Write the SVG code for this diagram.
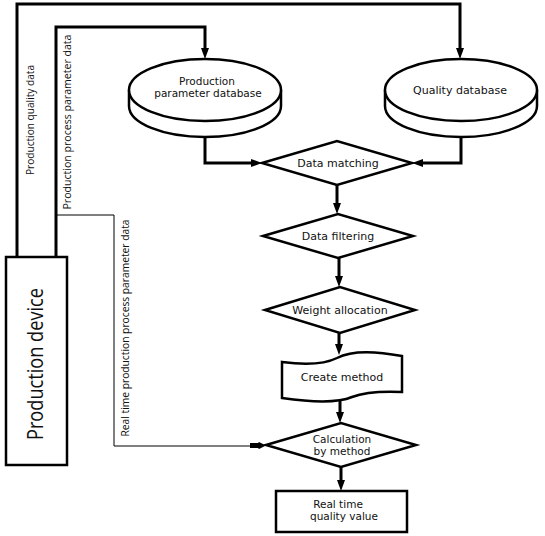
<svg xmlns="http://www.w3.org/2000/svg" width="545" height="536" viewBox="0 0 545 536">
<style>
.n{fill:#fff;stroke:#000;stroke-width:2.5;stroke-linejoin:miter}
.t{font-family:"DejaVu Sans",Verdana,sans-serif;font-size:11px;fill:#111;text-anchor:middle}
.t2{font-family:"DejaVu Sans",Verdana,sans-serif;font-size:10.5px;fill:#111;text-anchor:middle}
.l{font-family:"Open Sans","Noto Sans",sans-serif;font-size:11px;fill:#111;text-anchor:middle}
.c{fill:none;stroke:#000;stroke-width:3}
.thin{fill:none;stroke:#000;stroke-width:1}
</style>
<defs>
<marker id="ah" markerUnits="userSpaceOnUse" markerWidth="12" markerHeight="9" refX="4" refY="4" orient="auto">
<path d="M0,0 L11,4 L0,8 Z" fill="#000"/>
</marker>
</defs>
<rect width="545" height="536" fill="#fff"/>
<g id="connectors">
<path class="c" d="M17,257 V4 H460 V52" marker-end="url(#ah)"/>
<path class="c" d="M56,257 V27 H205 V52" marker-end="url(#ah)"/>
<path class="c" d="M205,137 V163 H255" marker-end="url(#ah)"/>
<path class="c" d="M461,137 V163 H419" marker-end="url(#ah)"/>
<path class="c" d="M337,185 V207" marker-end="url(#ah)"/>
<path class="c" d="M339,258 V280" marker-end="url(#ah)"/>
<path class="c" d="M339,333 V348" marker-end="url(#ah)"/>
<path class="c" d="M340,400 V416" marker-end="url(#ah)"/>
<path class="c" d="M341,467 V484" marker-end="url(#ah)"/>
<path class="thin" d="M56,215 H114 V446 H252"/>
<path d="M250,443 L258,443 L259,442 L266,445.5 L259,449 L258,448 L250,448 Z" fill="#000"/>
<text class="l" transform="translate(34,120) rotate(-90)" textLength="110" lengthAdjust="spacingAndGlyphs">Production quality data</text>
<text class="l" transform="translate(71,122) rotate(-90)" textLength="175" lengthAdjust="spacingAndGlyphs">Production process parameter data</text>
<text class="l" transform="translate(129,328) rotate(-90)" textLength="217" lengthAdjust="spacingAndGlyphs">Real time production process parameter data</text>
</g>
<g id="production-device">
<rect class="n" x="6" y="257" width="61" height="208"/>
<text transform="translate(43,364) rotate(-90)" font-family="'Open Sans','Noto Sans',sans-serif" font-size="22" text-anchor="middle" fill="#111" textLength="152" lengthAdjust="spacingAndGlyphs">Production device</text>
</g>
<g id="production-parameter-database">
<path class="n" d="M129,90 V106 A76,31 0 0 0 281,106 V90"/>
<ellipse class="n" cx="205" cy="90" rx="76" ry="31"/>
<text class="t2" x="207" y="85">Production</text>
<text class="t2" x="208" y="97">parameter database</text>
</g>
<g id="quality-database">
<path class="n" d="M385,90 V106 A76,31 0 0 0 537,106 V90"/>
<ellipse class="n" cx="461" cy="90" rx="76" ry="31"/>
<text class="t" x="460" y="94">Quality database</text>
</g>
<g id="data-matching">
<polygon class="n" points="262,163 337,141 412,163 337,185"/>
<text class="t" x="338" y="167">Data matching</text>
</g>
<g id="data-filtering">
<polygon class="n" points="263,236 338,214 413,236 338,258"/>
<text class="t" x="338" y="240">Data filtering</text>
</g>
<g id="weight-allocation">
<polygon class="n" points="265,310 340,287 415,310 340,333"/>
<text class="t" x="340" y="314">Weight allocation</text>
</g>
<g id="create-method">
<path class="n" d="M282,362 C305,365 325,364 337,358 C350,351 370,350 402,356 L402,392 C380,391 365,392 352,397 C338,403 310,402 282,398 Z"/>
<text class="t" x="342" y="381">Create method</text>
</g>
<g id="calculation-by-method">
<polygon class="n" points="266,445 341,423 416,445 341,467"/>
<text class="t2" x="342" y="443">Calculation</text>
<text class="t2" x="342" y="455">by method</text>
</g>
<g id="real-time-quality-value">
<rect class="n" x="276" y="491" width="131" height="41"/>
<text class="t2" x="338" y="508">Real time</text>
<text class="t2" x="344" y="520">quality value</text>
</g>
</svg>
